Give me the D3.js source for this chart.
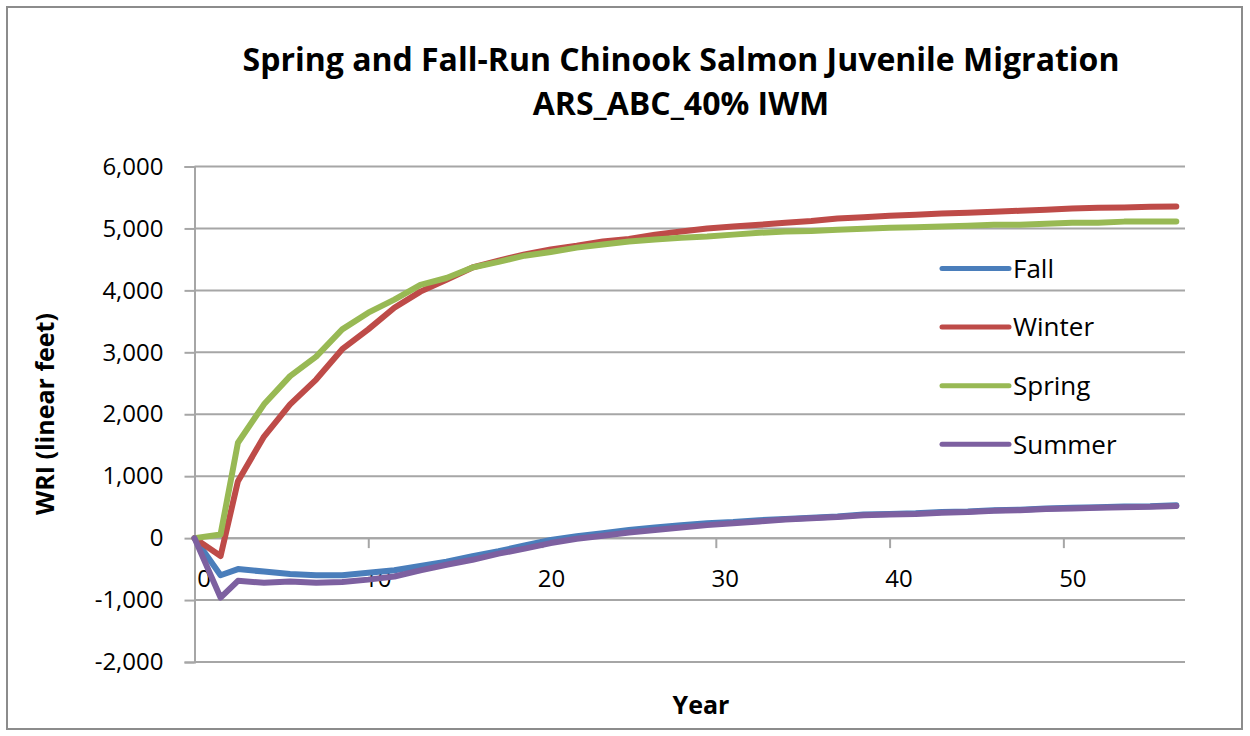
<!DOCTYPE html>
<html>
<head>
<meta charset="utf-8">
<script src="https://cdn.jsdelivr.net/npm/d3@7"></script>
<style>
  body { margin: 0; background: #fff; }
  text { font-family: "Open Sans", Lato, sans-serif; fill: #000; }
</style>
</head>
<body>
<div id="canvas"></div>
<script>
"use strict"

/* data */
let years = [0, 1.5, 2.5, 4, 5.5, 7, 8.5, 10, 11.5, 13, 14.5, 16, 17.5, 19, 20.5, 22, 23.5, 25, 26.5, 28,
    29.5, 31, 32.5, 34, 35.5, 37, 38.5, 40, 41.5, 43, 44.5, 46, 47.5, 49, 50.5, 52, 53.5, 55, 56.5];

let fall = [0, -600, -500, -540, -580, -600, -600, -560, -520, -450, -380, -290, -210, -120, -30, 30, 80, 130, 170, 210,
    240, 260, 290, 310, 330, 350, 380, 390, 400, 420, 430, 450, 460, 480, 490, 500, 510, 515, 530];

let winter = [0, -290, 920, 1640, 2160, 2560, 3050, 3370, 3720, 3980, 4170, 4370, 4480, 4580, 4660, 4720, 4790, 4830, 4900, 4950,
    5000, 5030, 5060, 5090, 5120, 5160, 5180, 5205, 5220, 5240, 5255, 5270, 5285, 5300, 5320, 5335, 5340, 5350, 5355];

let spring = [0, 60, 1540, 2160, 2616, 2930, 3370, 3640, 3850, 4090, 4200, 4370, 4460, 4560, 4620, 4690, 4740, 4790, 4820, 4850,
    4870, 4900, 4930, 4950, 4960, 4980, 4995, 5010, 5020, 5030, 5045, 5060, 5060, 5075, 5090, 5090, 5110, 5110, 5110];

let summer = [0, -960, -690, -720, -700, -720, -710, -670, -620, -520, -430, -350, -250, -170, -80, -10, 40, 90, 130, 170,
    210, 240, 270, 300, 320, 340, 370, 380, 390, 410, 420, 440, 450, 470, 480, 490, 500, 505, 520];

let seriesNames = ["Fall", "Winter", "Spring", "Summer"];
let seriesColors = ["#4a7ebb", "#be4b48", "#98b954", "#7d60a0"];
let yTicks = [-2000, -1000, 0, 1000, 2000, 3000, 4000, 5000, 6000];
let xTicks = [0, 10, 20, 30, 40, 50];

let allSeries = [fall, winter, spring, summer];

/* canvas */
let drawing = d3.select("#canvas")
    .append("svg")
    .attr("width", 1250)
    .attr("height", 736);

/* outer chart border */
let border = drawing.append("rect")
    .attr("x", 7)
    .attr("y", 7)
    .attr("width", 1235)
    .attr("height", 722)
    .attr("fill", "white")
    .attr("stroke", "#8c8c8c")
    .attr("stroke-width", 2);

/* scales */
let x = d3.scaleLinear().domain([0, 57]).range([194.5, 1185]);
let y = d3.scaleLinear().domain([-2000, 6000]).range([662, 166.5]);

/* gridlines */
drawing.append("g")
    .selectAll("line")
    .data(yTicks)
    .join("line")
    .attr("x1", x(0))
    .attr("x2", x(57))
    .attr("y1", d => y(d))
    .attr("y2", d => y(d))
    .attr("stroke", "#a6a6a6")
    .attr("stroke-width", 2);

/* y axis */
let yAxis = drawing.append("g")
    .attr("transform", `translate(${x(0)},0)`)
    .call(d3.axisLeft(y).tickValues(yTicks).tickSize(10).tickPadding(21)
        .tickFormat(d => d3.format(",")(d).replace("\u2212", "-")));
yAxis.select(".domain").attr("stroke", "#a6a6a6").attr("stroke-width", 2);
yAxis.selectAll(".tick line").attr("stroke", "#a6a6a6").attr("stroke-width", 2);
yAxis.selectAll("text")
    .style("font-size", "24px")
    .style("font-family", "'Open Sans', sans-serif")
    .attr("fill", "#000");

/* x axis through zero */
let xAxis = drawing.append("g")
    .attr("transform", `translate(0,${y(0)})`)
    .call(d3.axisBottom(x).tickValues(xTicks).tickSize(10).tickPadding(22));
xAxis.select(".domain").attr("stroke", "#a6a6a6").attr("stroke-width", 2).attr("d", `M${x(0)},0H${x(57)}`);
xAxis.selectAll(".tick line").attr("stroke", "#a6a6a6").attr("stroke-width", 2);
xAxis.selectAll("text")
    .attr("dx", 9)
    .style("font-size", "24px")
    .style("font-family", "'Open Sans', sans-serif")
    .attr("fill", "#000");

/* lines */
let line = d3.line()
    .x((d, i) => x(years[i]))
    .y(d => y(d));

drawing.append("g")
    .selectAll("path")
    .data(allSeries)
    .join("path")
    .attr("d", d => line(d))
    .attr("fill", "none")
    .attr("stroke", (d, i) => seriesColors[i])
    .attr("stroke-width", 6)
    .attr("stroke-linejoin", "round")
    .attr("stroke-linecap", "round");

/* legend */
let legend = drawing.append("g")
    .selectAll("g")
    .data(seriesNames)
    .join("g")
    .attr("transform", (d, i) => `translate(942,${268.5 + i * 58.6})`);

legend.append("line")
    .attr("x1", 0)
    .attr("x2", 67)
    .attr("stroke", (d, i) => seriesColors[i])
    .attr("stroke-width", 5)
    .attr("stroke-linecap", "round");

legend.append("text")
    .attr("x", 71)
    .attr("dy", "0.36em")
    .style("font-size", "26px")
    .text(d => d);

/* title */
let title = drawing.append("text")
    .attr("x", 681)
    .attr("y", 71)
    .attr("text-anchor", "middle")
    .style("font-size", "32px")
    .style("font-weight", "bold");
title.append("tspan").attr("x", 681).text("Spring and Fall-Run Chinook Salmon Juvenile Migration");
title.append("tspan").attr("x", 681).attr("dy", 44).text("ARS_ABC_40% IWM");

/* axis titles */
drawing.append("text")
    .attr("x", 701)
    .attr("y", 714)
    .attr("text-anchor", "middle")
    .style("font-size", "25px")
    .style("font-weight", "bold")
    .text("Year");

drawing.append("text")
    .attr("transform", "translate(54,414) rotate(-90)")
    .attr("text-anchor", "middle")
    .style("font-size", "25px")
    .style("font-weight", "bold")
    .text("WRI (linear feet)");
</script>
</body>
</html>
